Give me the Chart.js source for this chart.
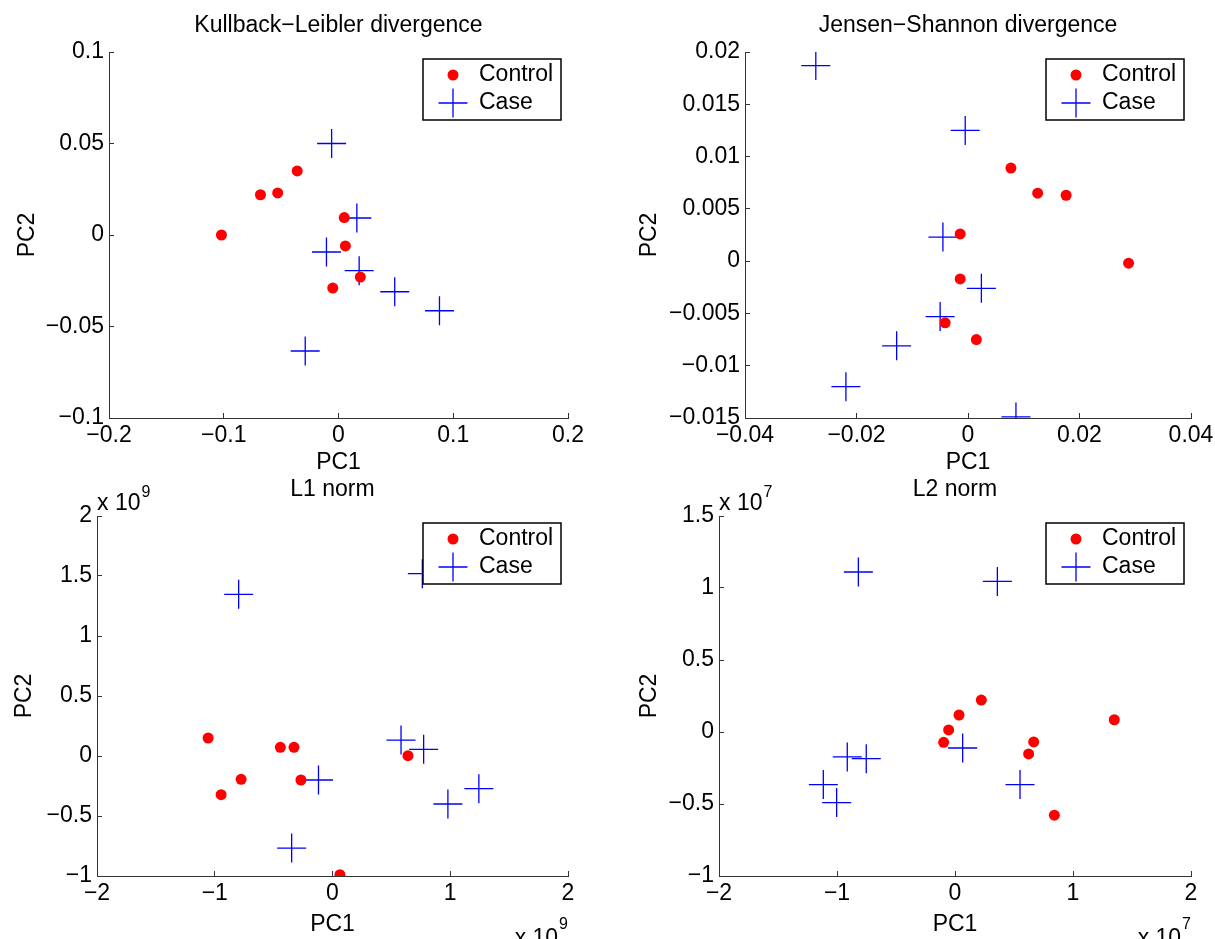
<!DOCTYPE html>
<html lang="en">
<head>
  <meta charset="UTF-8">
  <title>PCA of distance measures</title>
  <script src="https://cdn.jsdelivr.net/npm/chart.js"></script>
  <style>
    html, body { margin: 0; padding: 0; background: #fff; overflow: hidden; }
    #figure { position: relative; width: 1215px; height: 939px; }
    #figure canvas { position: absolute; }
  </style>
</head>
<body>
<div id="figure">
  <canvas id="kl" width="607" height="490" style="left:0px;top:0px"></canvas>
  <canvas id="js" width="608" height="490" style="left:607px;top:0px"></canvas>
  <canvas id="l1" width="607" height="469" style="left:0px;top:470px"></canvas>
  <canvas id="l2" width="608" height="469" style="left:607px;top:470px"></canvas>
</div>

<script>
  // PC scores

  // Kullback-Leibler divergence
  const klControlX = [-0.102, -0.068, -0.053, -0.036, 0.005, 0.006, 0.019, -0.005];
  const klControlY = [0.000, 0.022, 0.023, 0.035, 0.0095, -0.006, -0.023, -0.029];
  const klCaseX = [-0.006, 0.016, -0.0105, 0.018, 0.049, 0.088, -0.029];
  const klCaseY = [0.050, 0.0093, -0.0093, -0.0195, -0.031, -0.0414, -0.0634];

  // Jensen-Shannon divergence
  const jsControlX = [0.0077, 0.0125, 0.0176, -0.0014, 0.0288, -0.0014, -0.0041, 0.0015];
  const jsControlY = [0.0089, 0.0065, 0.0063, 0.0026, -0.0002, -0.0017, -0.0059, -0.0075];
  const jsCaseX = [-0.0273, -0.0005, -0.0045, 0.0024, -0.0050, -0.0128, -0.0219, 0.0086];
  const jsCaseY = [0.0187, 0.0125, 0.0023, -0.0026, -0.0053, -0.0081, -0.0120, -0.0149];

  // L1 norm (units of 1e9)
  const l1ControlX = [-1.056, -0.946, -0.776, -0.443, -0.327, -0.268, 0.641, 0.063];
  const l1ControlY = [0.150, -0.322, -0.194, 0.072, 0.072, -0.200, 0.003, -0.989];
  const l1CaseX = [-0.797, 0.763, 0.582, 0.774, -0.119, 1.243, 0.980, -0.347];
  const l1CaseY = [1.347, 1.519, 0.133, 0.056, -0.200, -0.272, -0.400, -0.767];

  // L2 norm (units of 1e7)
  const l2ControlX = [0.223, 0.034, -0.054, -0.096, 0.667, 0.624, 1.350, 0.842];
  const l2ControlY = [0.222, 0.118, 0.014, -0.072, -0.069, -0.152, 0.085, -0.578];
  const l2CaseX = [-0.819, 0.359, 0.065, -0.913, -0.752, -1.116, -1.003, 0.551];
  const l2CaseY = [1.111, 1.046, -0.111, -0.173, -0.185, -0.365, -0.490, -0.365];

  // tick values and labels
  const klXTicks = [-0.2, -0.1, 0, 0.1, 0.2];
  const klXLabels = ['\u22120.2', '\u22120.1', '0', '0.1', '0.2'];
  const klYTicks = [-0.1, -0.05, 0, 0.05, 0.1];
  const klYLabels = ['\u22120.1', '\u22120.05', '0', '0.05', '0.1'];
  const jsXTicks = [-0.04, -0.02, 0, 0.02, 0.04];
  const jsXLabels = ['\u22120.04', '\u22120.02', '0', '0.02', '0.04'];
  const jsYTicks = [-0.015, -0.01, -0.005, 0, 0.005, 0.01, 0.015, 0.02];
  const jsYLabels = ['\u22120.015', '\u22120.01', '\u22120.005', '0', '0.005', '0.01', '0.015', '0.02'];
  const normXTicks = [-2, -1, 0, 1, 2];
  const normXLabels = ['\u22122', '\u22121', '0', '1', '2'];
  const l1YTicks = [-1, -0.5, 0, 0.5, 1, 1.5, 2];
  const l1YLabels = ['\u22121', '\u22120.5', '0', '0.5', '1', '1.5', '2'];
  const l2YTicks = [-1, -0.5, 0, 0.5, 1, 1.5];
  const l2YLabels = ['\u22121', '\u22120.5', '0', '0.5', '1', '1.5'];

  const FONT = "'Liberation Sans', Arial, Helvetica, sans-serif";
  const AXIS_COLOR = '#333';
  Chart.defaults.font.family = FONT;

  function points(xs, ys) {
    return xs.map((x, i) => ({ x: x, y: ys[i] }));
  }

  // legend box in the top right corner of the axes, drawn over the data
  const boxLegend = {
    id: 'boxLegend',
    afterDraw(chart) {
      const ctx = chart.ctx, a = chart.chartArea;
      const w = 138, h = 61;
      const x0 = a.right - 7 - w, y0 = a.top + 7;
      ctx.save();
      ctx.fillStyle = '#fff';
      ctx.fillRect(x0, y0, w, h);
      ctx.strokeStyle = '#000';
      ctx.lineWidth = 1.5;
      ctx.strokeRect(x0, y0, w, h);
      ctx.font = '23px ' + FONT;
      ctx.textBaseline = 'middle';
      ctx.textAlign = 'left';
      chart.data.datasets.forEach((ds, i) => {
        const y = y0 + 16 + i * 28;
        const mx = x0 + 30;
        ctx.beginPath();
        if (ds.pointStyle === 'cross') {
          const r = ds.pointRadius;
          ctx.strokeStyle = ds.pointBorderColor;
          ctx.lineWidth = ds.pointBorderWidth;
          ctx.moveTo(mx - r, y); ctx.lineTo(mx + r, y);
          ctx.moveTo(mx, y - r); ctx.lineTo(mx, y + r);
          ctx.stroke();
        } else {
          ctx.fillStyle = ds.pointBackgroundColor;
          ctx.arc(mx, y, ds.pointRadius, 0, Math.PI * 2);
          ctx.fill();
        }
        ctx.fillStyle = '#000';
        ctx.fillText(ds.label, x0 + 56, y);
      });
      ctx.restore();
    }
  };

  // "x 10^n" scale factor labels
  const exponentLabel = {
    id: 'exponentLabel',
    afterDraw(chart, args, opts) {
      if (!opts.power) return;
      const ctx = chart.ctx, a = chart.chartArea;
      const big = '23px ' + FONT, small = '16px ' + FONT;
      ctx.save();
      ctx.fillStyle = '#000';
      ctx.textBaseline = 'alphabetic';
      // above the y axis
      ctx.textAlign = 'left';
      ctx.font = big;
      ctx.fillText('x 10', a.left, a.top - 6);
      const w = ctx.measureText('x 10').width;
      ctx.font = small;
      ctx.fillText(opts.power, a.left + w + 1, a.top - 19);
      // under the x axis, right aligned
      ctx.textAlign = 'right';
      ctx.fillText(opts.power, a.right, a.bottom + 53);
      const pw = ctx.measureText(opts.power).width;
      ctx.font = big;
      ctx.fillText('x 10', a.right - pw - 1, a.bottom + 68.5);
      ctx.restore();
    }
  };

  function axis(isX, ticks, labels, size, titlePad, labelPad) {
    return {
      type: 'linear',
      position: isX ? 'bottom' : 'left',
      min: ticks[0],
      max: ticks[ticks.length - 1],
      afterBuildTicks: s => { s.ticks = ticks.map(v => ({ value: v })); },
      afterFit: s => {
        if (isX) s.height = size; else s.width = size;
        s.paddingLeft = s.paddingRight = s.paddingTop = s.paddingBottom = 0;
      },
      grid: { drawOnChartArea: false, drawTicks: true, tickLength: -5, color: AXIS_COLOR, lineWidth: 1 },
      border: { display: true, color: AXIS_COLOR, width: 1 },
      ticks: {
        color: '#000', padding: labelPad, maxRotation: 0, autoSkip: false,
        font: { size: 23 },
        callback: (v, i) => labels[i]
      },
      title: {
        display: true, text: isX ? 'PC1' : 'PC2', color: '#000',
        font: { size: 23 },
        padding: isX ? { top: 0, bottom: titlePad } : { top: titlePad, bottom: 0 }
      }
    };
  }

  // p.cv: canvas box in page px, p.area: axes box in page px
  function panel(id, p) {
    const cv = p.cv, area = p.area;
    const titleTop = p.titleY - cv.top - 13.8;
    return new Chart(document.getElementById(id), {
      type: 'scatter',
      data: {
        datasets: [
          {
            label: 'Control', data: points(p.ctrlX, p.ctrlY),
            pointStyle: 'circle', pointRadius: 5.5, pointHoverRadius: 5.5,
            pointBackgroundColor: '#ff0000', pointBorderColor: '#ff0000', pointBorderWidth: 0
          },
          {
            label: 'Case', data: points(p.caseX, p.caseY),
            pointStyle: 'cross', pointRadius: 14.5, pointHoverRadius: 14.5,
            pointBackgroundColor: '#0000ff', pointBorderColor: '#0000ff', pointBorderWidth: 1.3
          }
        ]
      },
      options: {
        responsive: false,
        animation: false,
        events: [],
        layout: { padding: { left: 0, top: 0, bottom: 0, right: cv.left + cv.w - area.right } },
        plugins: {
          legend: { display: false },
          tooltip: { enabled: false },
          title: {
            display: true, text: p.title, fullSize: false, color: '#000',
            font: { size: 23, weight: 'normal' },
            padding: { top: titleTop, bottom: area.top - cv.top - 27.6 - titleTop }
          },
          exponentLabel: { power: p.power || '' }
        },
        scales: {
          x: axis(true, p.xTicks, p.xLabels, cv.top + cv.h - area.bottom,
                  cv.top + cv.h - p.xTitleY - 13.8, 9.2),
          y: axis(false, p.yTicks, p.yLabels, area.left - cv.left,
                  p.yTitleX - cv.left - 13.8, 10)
        }
      },
      plugins: [boxLegend, exponentLabel]
    });
  }

  panel('kl', {
    title: 'Kullback\u2212Leibler divergence',
    cv: { left: 0, top: 0, w: 607, h: 490 },
    area: { left: 109, right: 568, top: 52, bottom: 418 },
    titleY: 26, xTitleY: 463, yTitleX: 28,
    ctrlX: klControlX, ctrlY: klControlY, caseX: klCaseX, caseY: klCaseY,
    xTicks: klXTicks, xLabels: klXLabels, yTicks: klYTicks, yLabels: klYLabels
  });

  panel('js', {
    title: 'Jensen\u2212Shannon divergence',
    cv: { left: 607, top: 0, w: 608, h: 490 },
    area: { left: 745, right: 1191, top: 52, bottom: 418 },
    titleY: 26, xTitleY: 463, yTitleX: 650,
    ctrlX: jsControlX, ctrlY: jsControlY, caseX: jsCaseX, caseY: jsCaseY,
    xTicks: jsXTicks, xLabels: jsXLabels, yTicks: jsYTicks, yLabels: jsYLabels
  });

  panel('l1', {
    title: 'L1 norm', power: '9',
    cv: { left: 0, top: 470, w: 607, h: 469 },
    area: { left: 97, right: 568, top: 516, bottom: 876 },
    titleY: 490, xTitleY: 925, yTitleX: 25,
    ctrlX: l1ControlX, ctrlY: l1ControlY, caseX: l1CaseX, caseY: l1CaseY,
    xTicks: normXTicks, xLabels: normXLabels, yTicks: l1YTicks, yLabels: l1YLabels
  });

  panel('l2', {
    title: 'L2 norm', power: '7',
    cv: { left: 607, top: 470, w: 608, h: 469 },
    area: { left: 719, right: 1191, top: 516, bottom: 876 },
    titleY: 490, xTitleY: 925, yTitleX: 650,
    ctrlX: l2ControlX, ctrlY: l2ControlY, caseX: l2CaseX, caseY: l2CaseY,
    xTicks: normXTicks, xLabels: normXLabels, yTicks: l2YTicks, yLabels: l2YLabels
  });
</script>
</body>
</html>
